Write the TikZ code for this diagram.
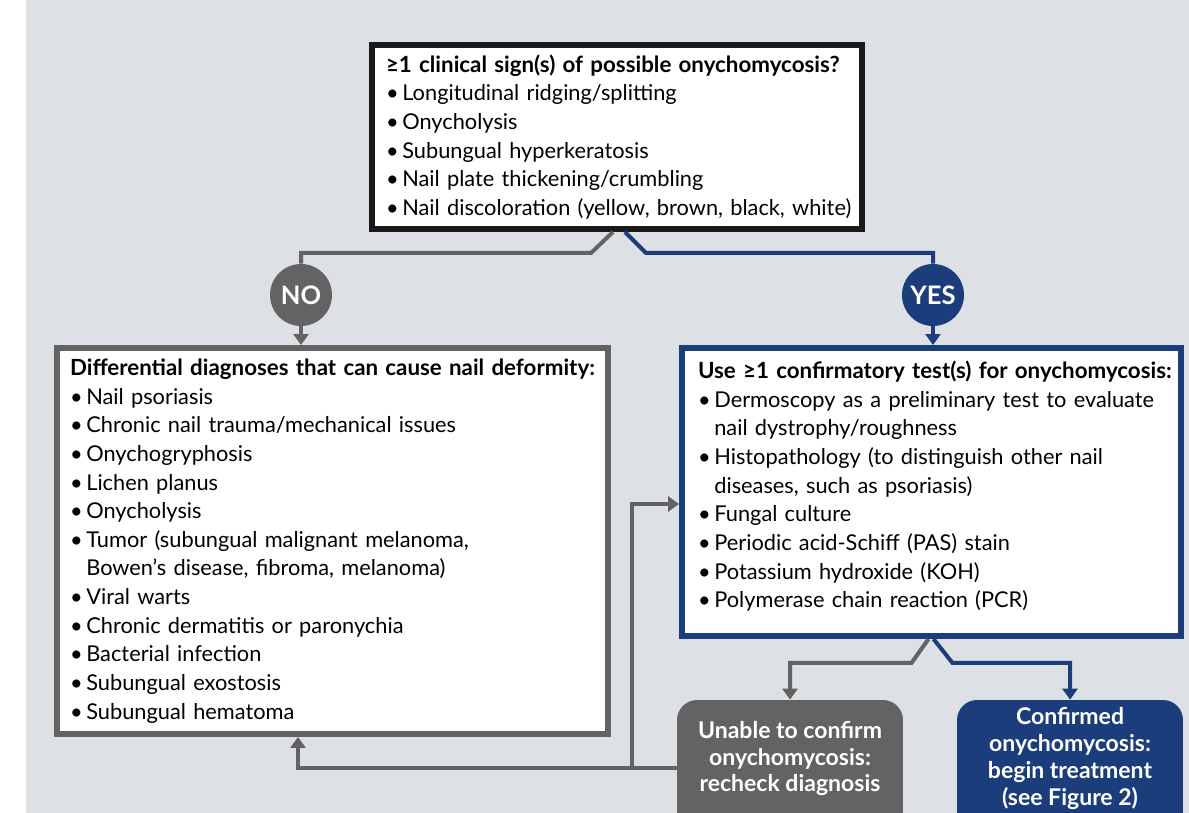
\documentclass[tikz,border=0pt]{standalone}
\usepackage{fontspec}
\setmainfont{Lato}
\usetikzlibrary{arrows.meta,calc,positioning}
\definecolor{panelgray}{RGB}{221,224,228}
\definecolor{flowgray}{RGB}{99,99,99}
\definecolor{flowblue}{RGB}{27,61,124}
\definecolor{boxblack}{RGB}{26,26,26}
\newcommand{\listhead}[1]{{\bfseries\fontsize{12.7}{16.3}\selectfont #1}}
\tikzset{
  listbox/.style={draw, fill=white, line width=0.12cm, align=left,
    font=\fontsize{12.4}{16.3}\selectfont, inner ysep=0.1cm},
  flowline/.style={line width=0.08cm},
  flowhead/.style={-{Triangle[width=0.3cm,length=0.22cm]}},
  answer/.style={circle, minimum size=1.24cm, inner sep=0pt, text=white,
    font=\bfseries\fontsize{14.5}{14.5}\selectfont},
  outcome/.style={rounded corners=0.4cm, minimum width=4.52cm,
    minimum height=2.7cm, text=white, align=center,
    font=\bfseries\fontsize{13.1}{15.3}\selectfont}
}

\begin{document}
\begin{tikzpicture}[x=0.02cm, y=-0.02cm]

  \useasboundingbox (0,0) rectangle (1189,813);
  \fill[white] (0,0) rectangle (1189,813);
  \fill[panelgray] (26,0) rectangle (1189,813);

  % Question box
  \node[listbox, draw=boxblack, minimum width=9.8cm, minimum height=3.68cm,
    text width=9.24cm, inner xsep=0.28cm] (signs) at (617,137)
    {\listhead{≥1 clinical sign(s) of possible onychomycosis?}\\
     •\,Longitudinal ridging/splitting\\
     •\,Onycholysis\\
     •\,Subungual hyperkeratosis\\
     •\,Nail plate thickening/crumbling\\
     \mbox{•\,Nail discoloration (yellow, brown, black, white)}};

  % Answers
  \node[answer, fill=flowgray] (no) at (301,295) {NO};
  \node[answer, fill=flowblue] (yes) at (933,295) {YES};

  % NO branch
  \node[listbox, draw=flowgray, minimum width=11.02cm, minimum height=7.72cm,
    text width=10.5cm, inner xsep=0.26cm] (diff) at (332.5,541)
    {\listhead{\mbox{Differential diagnoses that can cause nail deformity:}}\\
     •\,Nail psoriasis\\
     •\,Chronic nail trauma/mechanical issues\\
     •\,Onychogryphosis\\
     •\,Lichen planus\\
     •\,Onycholysis\\
     •\,Tumor (subungual malignant melanoma,\\
     \phantom{•\,}Bowen’s disease, fibroma, melanoma)\\
     •\,Viral warts\\
     •\,Chronic dermatitis or paronychia\\
     •\,Bacterial infection\\
     •\,Subungual exostosis\\
     •\,Subungual hematoma};

  % YES branch
  \node[listbox, draw=flowblue, minimum width=9.98cm, minimum height=5.76cm,
    text width=9.34cm, inner xsep=0.32cm] (tests) at (931.5,492)
    {\listhead{\mbox{Use ≥1 confirmatory test(s) for onychomycosis:}}\\
     \mbox{•\,Dermoscopy as a preliminary test to evaluate}\\
     \phantom{•\,}nail dystrophy/roughness\\
     •\,Histopathology (to distinguish other nail\\
     \phantom{•\,}diseases, such as psoriasis)\\
     •\,Fungal culture\\
     •\,Periodic acid-Schiff (PAS) stain\\
     •\,Potassium hydroxide (KOH)\\
     •\,Polymerase chain reaction (PCR)\rule[-0.3cm]{0pt}{0pt}};

  % Outcomes
  \node[outcome, fill=flowgray] (unable) at (790,767.5)
    {Unable to confirm\\onychomycosis:\\recheck diagnosis\rule[-0.44cm]{0pt}{0pt}};
  \node[outcome, fill=flowblue] (confirmed) at (1070,767.5)
    {Confirmed\\onychomycosis:\\begin treatment\\(see Figure 2)\rule[-0.44cm]{0pt}{0pt}};

  % Connectors
  \draw[flowline, color=flowgray] ($(signs.south)+(-4,0)$) -- ++(-22,21) -| (no);
  \draw[flowline, color=flowblue] ($(signs.south)+(8,0)$) -- ++(21,21) -| (yes);
  \draw[flowline, flowhead, color=flowgray] (no) -- (no |- diff.north);
  \draw[flowline, flowhead, color=flowblue] (yes) -- (yes |- tests.north);
  \draw[flowline, flowhead, color=flowgray] ($(tests.south)+(-3,0)$) -- ++(-17,24) -| (unable);
  \draw[flowline, flowhead, color=flowblue] ($(tests.south)+(2,0)$) -- ++(19,24) -| (confirmed);

  % Return paths
  \coordinate (split) at (632,767.5);
  \draw[flowline, flowhead, color=flowgray] (unable.west) -| ($(diff.south)+(-34.5,0)$);
  \draw[flowline, flowhead, color=flowgray] (split) |- ($(tests.west)+(0,12)$);

\end{tikzpicture}
\end{document}
